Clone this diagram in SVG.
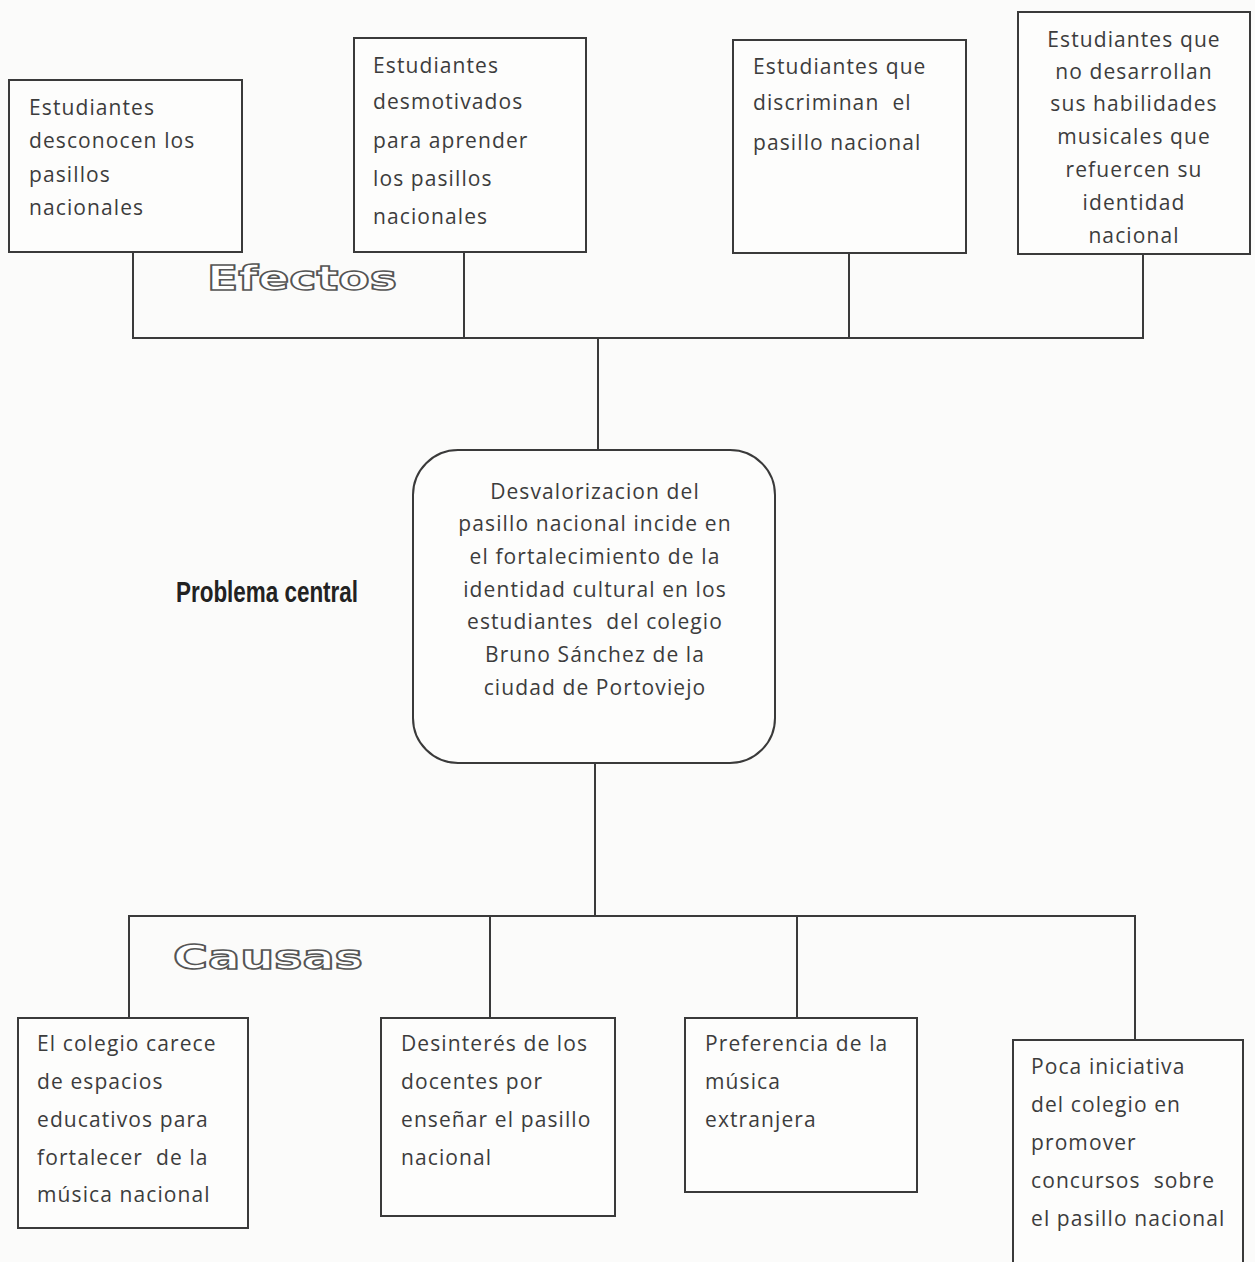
<svg xmlns="http://www.w3.org/2000/svg" width="1255" height="1262" viewBox="0 0 1255 1262">
<style>
.bg{fill:#fbfbfa}
.box{fill:#fdfdfc;stroke:#3a3a3a;stroke-width:2}
.ln{fill:none;stroke:#3a3a3a;stroke-width:2}
.t{font-family:"Open Sans","Noto Sans",sans-serif;font-size:21px;letter-spacing:1.1px;fill:#3c3c3c;white-space:pre}
.c{text-anchor:middle}
.outl{font-family:"DejaVu Sans",sans-serif;font-weight:bold;font-size:34px;fill:#ffffff;stroke:#555;stroke-width:1.5}
.pc{font-family:"Liberation Sans",sans-serif;font-weight:bold;font-size:30px;fill:#222}
</style>
<rect class="bg" x="0" y="0" width="1255" height="1262"/>
<g id="connectors">
<path class="ln" d="M133 252V338H1143V254M464 252V338M849 253V338M598 338V450"/>
<path class="ln" d="M595 763V916M129 1018V916H1135V1040M490 916V1018M797 916V1018"/>
</g>
<g id="label-efectos"><text class="outl" x="207" y="290" textLength="190" lengthAdjust="spacingAndGlyphs">Efectos</text></g>
<g id="label-causas"><text class="outl" x="173" y="969" textLength="190" lengthAdjust="spacingAndGlyphs">Causas</text></g>
<g id="label-problema"><text class="pc" x="176" y="602" textLength="182" lengthAdjust="spacingAndGlyphs">Problema central</text></g>
<g id="efecto1">
<rect class="box" x="9" y="80" width="233" height="172"/>
<text class="t" x="29" y="115">Estudiantes</text>
<text class="t" x="29" y="148">desconocen los</text>
<text class="t" x="29" y="182">pasillos</text>
<text class="t" x="29" y="215">nacionales</text>
</g>
<g id="efecto2">
<rect class="box" x="354" y="38" width="232" height="214"/>
<text class="t" x="373" y="73">Estudiantes</text>
<text class="t" x="373" y="109">desmotivados</text>
<text class="t" x="373" y="148">para aprender</text>
<text class="t" x="373" y="186">los pasillos</text>
<text class="t" x="373" y="224">nacionales</text>
</g>
<g id="efecto3">
<rect class="box" x="733" y="40" width="233" height="213"/>
<text class="t" x="753" y="74">Estudiantes que</text>
<text class="t" x="753" y="110">discriminan  el</text>
<text class="t" x="753" y="150">pasillo nacional</text>
</g>
<g id="efecto4">
<rect class="box" x="1018" y="12" width="232" height="242"/>
<text class="t c" x="1134" y="47">Estudiantes que</text>
<text class="t c" x="1134" y="79">no desarrollan</text>
<text class="t c" x="1134" y="111">sus habilidades</text>
<text class="t c" x="1134" y="144">musicales que</text>
<text class="t c" x="1134" y="177">refuercen su</text>
<text class="t c" x="1134" y="210">identidad</text>
<text class="t c" x="1134" y="243">nacional</text>
</g>
<g id="problema">
<rect class="box" x="413" y="450" width="362" height="313" rx="45" ry="45"/>
<text class="t c" x="595" y="499">Desvalorizacion del</text>
<text class="t c" x="595" y="531">pasillo nacional incide en</text>
<text class="t c" x="595" y="564">el fortalecimiento de la</text>
<text class="t c" x="595" y="597">identidad cultural en los</text>
<text class="t c" x="595" y="629">estudiantes  del colegio</text>
<text class="t c" x="595" y="662">Bruno Sánchez de la</text>
<text class="t c" x="595" y="695">ciudad de Portoviejo</text>
</g>
<g id="causa1">
<rect class="box" x="18" y="1018" width="230" height="210"/>
<text class="t" x="37" y="1051">El colegio carece</text>
<text class="t" x="37" y="1089">de espacios</text>
<text class="t" x="37" y="1127">educativos para</text>
<text class="t" x="37" y="1165">fortalecer  de la</text>
<text class="t" x="37" y="1202">música nacional</text>
</g>
<g id="causa2">
<rect class="box" x="381" y="1018" width="234" height="198"/>
<text class="t" x="401" y="1051">Desinterés de los</text>
<text class="t" x="401" y="1089">docentes por</text>
<text class="t" x="401" y="1127">enseñar el pasillo</text>
<text class="t" x="401" y="1165">nacional</text>
</g>
<g id="causa3">
<rect class="box" x="685" y="1018" width="232" height="174"/>
<text class="t" x="705" y="1051">Preferencia de la</text>
<text class="t" x="705" y="1089">música</text>
<text class="t" x="705" y="1127">extranjera</text>
</g>
<g id="causa4">
<rect class="box" x="1013" y="1040" width="230" height="240"/>
<text class="t" x="1031" y="1074">Poca iniciativa</text>
<text class="t" x="1031" y="1112">del colegio en</text>
<text class="t" x="1031" y="1150">promover</text>
<text class="t" x="1031" y="1188">concursos  sobre</text>
<text class="t" x="1031" y="1226">el pasillo nacional</text>
</g>
</svg>
